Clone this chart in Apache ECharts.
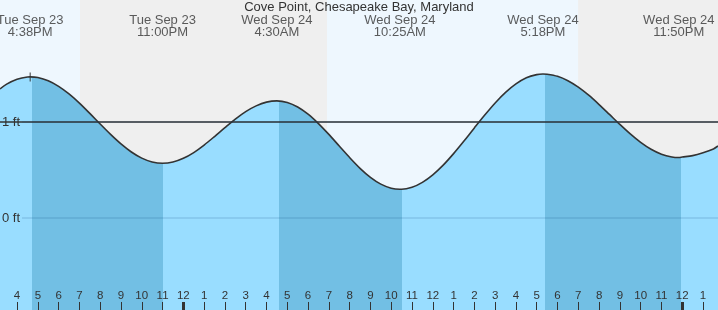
<!DOCTYPE html>
<html><head><meta charset="utf-8">
<script src="https://cdn.jsdelivr.net/npm/echarts@6/dist/echarts.min.js"></script>
<style>html,body{margin:0;padding:0;background:#fff}#c{width:718px;height:310px}</style>
</head><body><div id="c"></div>
<script>
// ---- data (hours relative to midnight starting Wed Sep 24; feet) ----
const chartTitle = 'Cove Point, Chesapeake Bay, Maryland';
const tideHours = [-8.82, -8.5, -8, -7.5, -7.367, -7, -6.5, -6, -5.5, -5, -4.5, -4, -3.5, -3, -2.5, -2, -1.5, -1,
  -0.5, 0, 0.5, 1, 1.5, 2, 2.5, 3, 3.5, 4, 4.5, 5, 5.5, 6, 6.5, 7, 7.5, 8, 8.5, 9, 9.5, 10, 10.417,
  10.5, 11, 11.5, 12, 12.5, 13, 13.5, 14, 14.5, 15, 15.5, 16, 16.5, 17, 17.3, 17.5, 18, 18.5, 19, 19.5,
  20, 20.5, 21, 21.5, 22, 22.5, 23, 23.5, 23.833, 24, 24.5, 25, 25.5, 25.72];
const tideFeet = [1.345, 1.395, 1.446, 1.469, 1.47, 1.463, 1.429, 1.371, 1.292, 1.197, 1.090, 0.979, 0.871, 0.772, 0.688, 0.624, 0.584, 0.57,
  0.583, 0.622, 0.682, 0.760, 0.849, 0.941, 1.030, 1.108, 1.168, 1.207, 1.22, 1.204, 1.157, 1.082, 0.984, 0.871, 0.750, 0.630, 0.518, 0.424, 0.353, 0.311, 0.30,
  0.300, 0.321, 0.372, 0.450, 0.551, 0.671, 0.802, 0.939, 1.073, 1.199, 1.309, 1.397, 1.461, 1.494, 1.50, 1.498, 1.476, 1.430, 1.363, 1.279,
  1.182, 1.079, 0.975, 0.876, 0.788, 0.716, 0.665, 0.636, 0.63, 0.635, 0.65, 0.68, 0.72, 0.75];
const extremeHours = [-7.367, -1.0, 4.5, 10.417, 17.3, 23.833];
const extremeDays  = ['Tue Sep 23', 'Tue Sep 23', 'Wed Sep 24', 'Wed Sep 24', 'Wed Sep 24', 'Wed Sep 24'];
const extremeTimes = ['4:38PM', '11:00PM', '4:30AM', '10:25AM', '5:18PM', '11:50PM'];
const fallingBands = [[-7.28, -0.98], [4.6, 10.5], [17.4, 23.93]];
const nightSpans   = [[-4.97, 6.91], [18.99, 25.72]];
const hourTicks = [-8, -7, -6, -5, -4, -3, -2, -1, 0, 1, 2, 3, 4, 5, 6, 7, 8, 9, 10, 11, 12, 13, 14, 15, 16, 17, 18, 19, 20, 21, 22, 23, 24, 25];
const midnightTicks = [0, 24];
const levelValues = [1, 0];
const levelLabels = ['1 ft', '0 ft'];
const nowMarker = [[-7.367, 1.47]];

// ---- layout / style ----
const xMin = -8.82, xMax = 25.72, yMin = -0.958, yMax = 2.271;
const FONT = 'Liberation Sans';
const TXT = '#333333';
const LIGHT = '#99ddff', DARK = '#72bfe4';

const tideData = tideHours.map((h, i) => [h, tideFeet[i]]);
const hourFmt = v => { const hh = ((Math.round(v) % 24) + 24) % 24; const h12 = hh % 12; return String(h12 === 0 ? 12 : h12); };
const chart = echarts.init(document.getElementById('c'), null, {renderer: 'canvas'});
chart.setOption({
  animation: false,
  backgroundColor: '#eef7fe',
  title: {text: chartTitle, left: 'center', top: 1, padding: 0,
    textStyle: {fontFamily: FONT, fontSize: 13, fontWeight: 'normal', color: TXT}},
  grid: {left: 0, right: 0, top: 0, bottom: 0, containLabel: false},
  xAxis: [{
    type: 'value', min: xMin, max: xMax, z: 10, position: 'bottom',
    axisLine: {show: false, onZero: false}, splitLine: {show: false},
    axisTick: {show: false},
    axisLabel: {show: true, inside: true, margin: 8, customValues: hourTicks,
      fontFamily: FONT, fontSize: 11.5, color: TXT, formatter: hourFmt}
  }, {
    type: 'value', min: xMin, max: xMax, position: 'bottom', z: 11,
    axisLine: {show: false, onZero: false}, splitLine: {show: false},
    axisTick: {show: true, inside: true, length: 8, customValues: midnightTicks, lineStyle: {color: TXT, width: 3}},
    axisLabel: {show: false}
  }],
  yAxis: {type: 'value', min: yMin, max: yMax, show: false},
  visualMap: {
    type: 'piecewise', show: false, dimension: 0, seriesIndex: 1,
    pieces: fallingBands.map(b => ({gte: b[0], lt: b[1], color: DARK})),
    outOfRange: {color: LIGHT}
  },
  series: [
    { // background: night shading + black level line
      type: 'line', data: tideData, z: 1, silent: true, showSymbol: false,
      lineStyle: {width: 0, opacity: 0},
      markArea: {silent: true, itemStyle: {color: '#efefef'},
        data: nightSpans.map(s => [{xAxis: s[0]}, {xAxis: s[1]}])},
      markLine: {silent: true, symbol: 'none', label: {show: false},
        lineStyle: {color: TXT, width: 1.5, type: 'solid'},
        data: [{yAxis: levelValues[0]}]}
    },
    { // water fill
      type: 'line', data: tideData, z: 2, silent: true, showSymbol: false,
      smooth: 0.3,
      lineStyle: {width: 0},
      areaStyle: {opacity: 1, origin: 'start'}
    },
    { // faint level lines over the water + labels
      type: 'line', data: [], z: 3, silent: true,
      markLine: {silent: true, symbol: 'none',
        lineStyle: {color: 'rgba(0,60,110,0.15)', width: 1.5, type: 'solid'},
        label: {show: true, position: 'start', distance: 2, fontFamily: FONT, fontSize: 13, color: TXT},
        data: levelValues.map((v, i) => [
          {coord: [-7.76, v], label: {formatter: levelLabels[i]}},
          {coord: [xMax, v]}
        ])}
    },
    { // tide curve
      type: 'line', data: tideData, z: 4, silent: true, showSymbol: false,
      smooth: 0.3,
      lineStyle: {color: TXT, width: 1.6}
    },
    { // now marker
      type: 'scatter', data: nowMarker, z: 5, silent: true,
      symbol: 'rect', symbolSize: [1.2, 9], itemStyle: {color: TXT}
    },
    { // hour ticks along the bottom edge
      type: 'line', data: [], z: 9, silent: true,
      markLine: {silent: true, symbol: 'none', label: {show: false},
        lineStyle: {color: TXT, width: 1, type: 'solid'},
        data: hourTicks.map(h => [{coord: [h, yMin]}, {coord: [h, yMin + 8 / 96]}])}
    },
    { // extreme labels
      type: 'scatter', z: 6, silent: true, symbolSize: 0,
      data: extremeHours.map((h, i) => ({value: [h, 2.0], name: extremeDays[i] + '\n' + extremeTimes[i]})),
      label: {show: true, position: 'inside', formatter: p => p.name,
        fontFamily: FONT, fontSize: 13, lineHeight: 12, color: TXT, align: 'center', verticalAlign: 'middle'}
    }
  ]
});
</script>
</body></html>
